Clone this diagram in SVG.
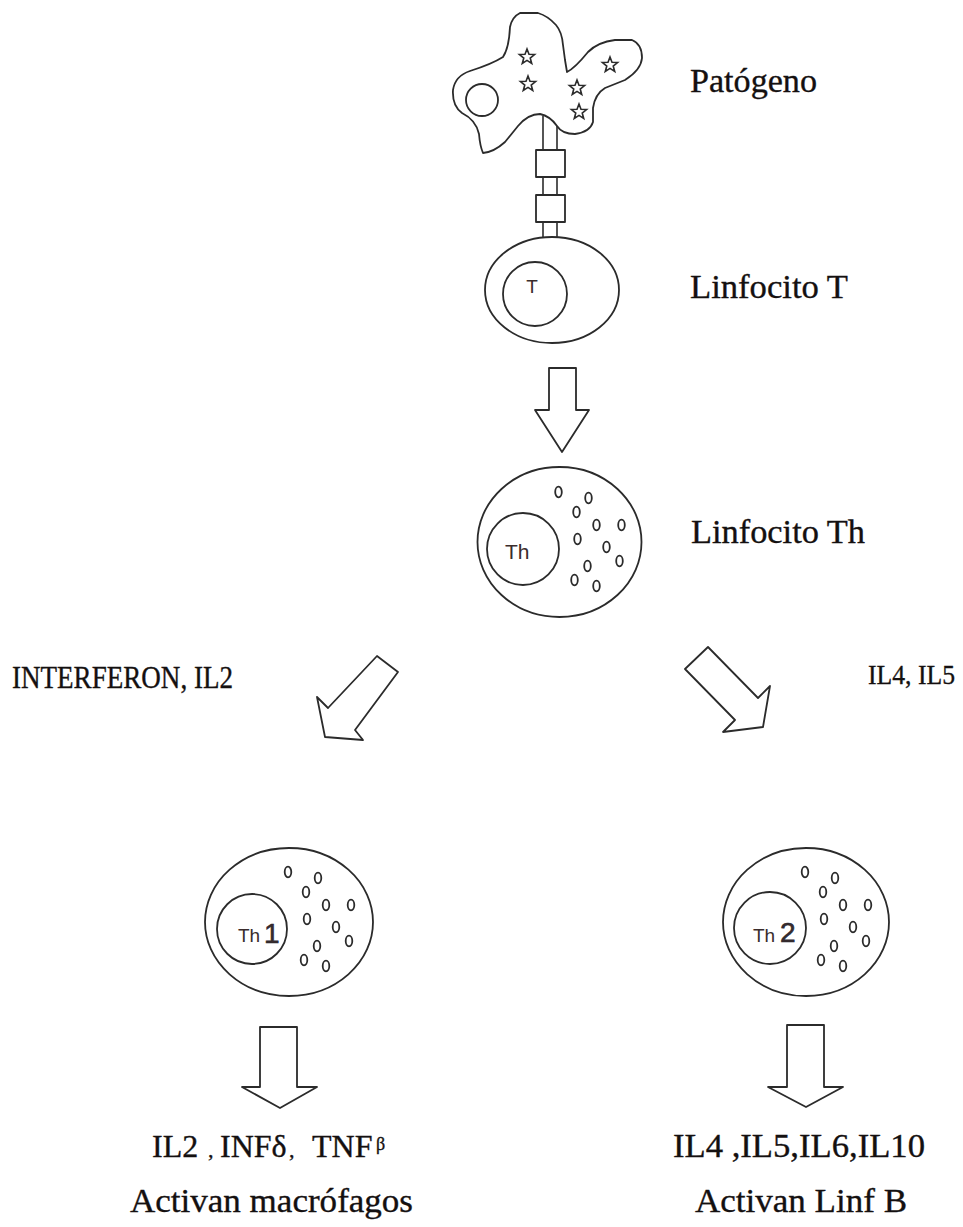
<svg xmlns="http://www.w3.org/2000/svg" xmlns:xlink="http://www.w3.org/1999/xlink" width="963" height="1227" viewBox="0 0 963 1227">
  <style>
    .line { fill: #ffffff; stroke: #2b2b2b; stroke-width: 1.8; stroke-linejoin: round; }
    .thin { fill: none; stroke: #2b2b2b; stroke-width: 1.6; }
    .gran { fill: #ffffff; stroke: #2b2b2b; stroke-width: 1.8; }
    .label { font-family: "Liberation Serif", "Times New Roman", serif; fill: #141010; stroke: #141010; stroke-width: 0.35; }
    .cell { font-family: "Liberation Sans", Arial, sans-serif; fill: #3a2c2c; }
  </style>
  <defs>
    <!-- five-point star outline -->
    <path id="star" d="M0,-8 L2,-2.75 L7.61,-2.47 L3.23,1.05 L4.7,6.47 L0,3.4 L-4.7,6.47 L-3.23,1.05 L-7.61,-2.47 L-2,-2.75 Z"/>
    <!-- granule cluster, positioned relative to the cell centre -->
    <g id="granules" class="gran">
      <ellipse cx="-1" cy="-50" rx="3.3" ry="5.3"/>
      <ellipse cx="29" cy="-44" rx="3.3" ry="5.3"/>
      <ellipse cx="17" cy="-30" rx="3.3" ry="5.3"/>
      <ellipse cx="37" cy="-17" rx="3.3" ry="5.3"/>
      <ellipse cx="62" cy="-17" rx="3.3" ry="5.3"/>
      <ellipse cx="18" cy="-3" rx="3.3" ry="5.3"/>
      <ellipse cx="47" cy="5" rx="3.3" ry="5.3"/>
      <ellipse cx="60" cy="19" rx="3.3" ry="5.3"/>
      <ellipse cx="28" cy="24" rx="3.3" ry="5.3"/>
      <ellipse cx="15" cy="38" rx="3.3" ry="5.3"/>
      <ellipse cx="37" cy="44" rx="3.3" ry="5.3"/>
    </g>
  </defs>

  <rect width="963" height="1227" fill="#ffffff"/>

  <!-- pathogen with antigen stars -->
  <g id="patogeno">
    <path class="line" d="M510,27 Q512,17 520,13 L538,13 Q548,16 556,25 Q562,32 563,45 L565,60 L567,72 Q575,68 588,52 Q598,42 615,40 L632,40 Q642,44 642,58 Q641,70 625,80 L605,88 Q595,94 593,108 L593,122 Q590,132 575,134 Q562,134 557,126 Q550,116 540,114 Q528,114 518,126 L505,142 Q494,152 483,153 Q480,146 479,134 Q476,120 462,113 Q452,106 453,90 Q455,76 470,71 Q492,64 503,57 Q509,48 510,27 Z"/>
    <circle class="line" cx="482" cy="100" r="16"/>
    <g class="thin">
      <use xlink:href="#star" href="#star" x="527" y="57"/>
      <use xlink:href="#star" href="#star" x="528" y="84"/>
      <use xlink:href="#star" href="#star" x="610" y="65"/>
      <use xlink:href="#star" href="#star" x="577" y="88"/>
      <use xlink:href="#star" href="#star" x="579" y="112"/>
    </g>
    <text class="label" x="690" y="92" font-size="34" textLength="127" lengthAdjust="spacingAndGlyphs">Patógeno</text>
  </g>

  <!-- receptor linking pathogen and T cell, plus flow arrows -->
  <g id="connectors">
    <line class="thin" x1="543" y1="116" x2="543" y2="242"/>
    <line class="thin" x1="557" y1="126" x2="557" y2="242"/>
    <rect class="line" x="536" y="150" width="29" height="27"/>
    <rect class="line" x="536" y="195" width="29" height="27"/>
    <polygon class="line" points="549,368 576,368 576,410 589,410 562,452 535,410 549,410"/>
    <polygon class="line" points="377,656 398,672 355,730 363,740 325,737 317,697 328,708"/>
    <polygon class="line" points="708,647 758,698 770,686 763,727 723,732 735,720 685,669"/>
    <polygon class="line" points="260,1027 297,1027 297,1087 317,1087 280,1108 242,1087 260,1087"/>
    <polygon class="line" points="787,1025 824,1025 824,1087 843,1087 806,1107 768,1087 787,1087"/>
  </g>

  <!-- T lymphocyte -->
  <g id="linfocito-t">
    <ellipse class="line" cx="552" cy="290" rx="67" ry="53"/>
    <circle class="line" cx="535" cy="294" r="32"/>
    <text class="cell" x="532" y="293" font-size="19" text-anchor="middle">T</text>
    <text class="label" x="690" y="298" font-size="34" textLength="158" lengthAdjust="spacingAndGlyphs">Linfocito T</text>
  </g>

  <!-- helper T lymphocyte -->
  <g id="linfocito-th">
    <ellipse class="line" cx="559.5" cy="542" rx="82" ry="75"/>
    <circle class="line" cx="523" cy="549" r="36"/>
    <use xlink:href="#granules" href="#granules" x="559.5" y="542"/>
    <text class="cell" x="505" y="559" font-size="21">Th</text>
    <text class="label" x="691" y="543" font-size="34" textLength="174" lengthAdjust="spacingAndGlyphs">Linfocito Th</text>
  </g>

  <!-- cytokine labels on the branches -->
  <g id="etiqueta-th1">
    <text class="label" x="12" y="688" font-size="31" textLength="221" lengthAdjust="spacingAndGlyphs">INTERFERON, IL2</text>
  </g>
  <g id="etiqueta-th2">
    <text class="label" x="868" y="684" font-size="28" textLength="87" lengthAdjust="spacingAndGlyphs">IL4, IL5</text>
  </g>

  <!-- Th1 cell -->
  <g id="th1">
    <ellipse class="line" cx="289" cy="922" rx="84" ry="74"/>
    <circle class="line" cx="252" cy="929" r="35"/>
    <use xlink:href="#granules" href="#granules" x="289" y="922"/>
    <text class="cell" x="238" y="942" font-size="19">Th</text>
    <text class="cell" x="264" y="943" font-size="28" fill="#1e2430" stroke="#1e2430" stroke-width="0.6">1</text>
  </g>

  <!-- Th2 cell -->
  <g id="th2">
    <ellipse class="line" cx="806" cy="922" rx="83" ry="74"/>
    <circle class="line" cx="770" cy="928" r="36"/>
    <use xlink:href="#granules" href="#granules" x="806" y="922"/>
    <text class="cell" x="753" y="942" font-size="19">Th</text>
    <text class="cell" x="780" y="942" font-size="28" fill="#1e2430" stroke="#1e2430" stroke-width="0.6">2</text>
  </g>

  <!-- Th1 products -->
  <g id="resultado-th1">
    <text class="label" y="1157" font-size="32"><tspan x="152">IL2</tspan><tspan x="208" font-size="22">,</tspan><tspan x="220">INFδ</tspan><tspan x="289" font-size="22">,</tspan><tspan x="312">TNF</tspan><tspan x="376" y="1150" font-size="18">β</tspan></text>
    <text class="label" x="130" y="1212" font-size="34" textLength="283" lengthAdjust="spacingAndGlyphs">Activan macrófagos</text>
  </g>

  <!-- Th2 products -->
  <g id="resultado-th2">
    <text class="label" x="673" y="1157" font-size="33" textLength="252" lengthAdjust="spacingAndGlyphs">IL4 ,IL5,IL6,IL10</text>
    <text class="label" x="695" y="1212" font-size="34" textLength="212" lengthAdjust="spacingAndGlyphs">Activan Linf B</text>
  </g>
</svg>
